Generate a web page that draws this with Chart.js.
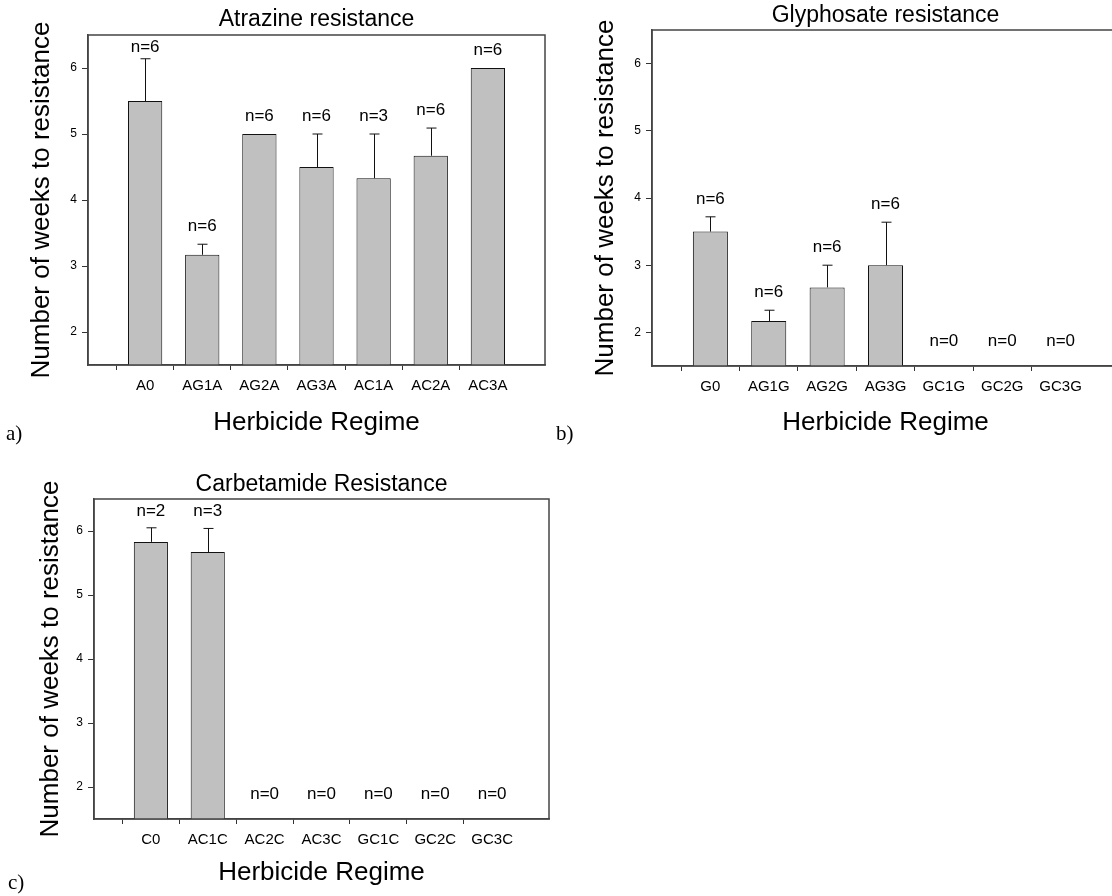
<!DOCTYPE html>
<html>
<head>
<meta charset="utf-8">
<title>Weeks to resistance by herbicide regime</title>
<script src="https://cdn.jsdelivr.net/npm/chart.js@4.4.1/dist/chart.umd.min.js"></script>
<style>
  html, body { margin:0; padding:0; background:#fff; overflow:hidden; width:1112px; height:896px; }
  .panel { position:absolute; }
  .tag { position:absolute; font-family:"Liberation Serif","Times New Roman",serif; font-size:21px; line-height:21px; color:#000; }
</style>
</head>
<body>
<div class="panel" style="left:0;top:0;width:560px;height:440px"><canvas id="chartA"></canvas></div>
<div class="panel" style="left:556px;top:0;width:575px;height:440px"><canvas id="chartB"></canvas></div>
<div class="panel" style="left:0;top:440px;width:560px;height:456px"><canvas id="chartC"></canvas></div>
<div class="tag" style="left:6px;top:423px">a)</div>
<div class="tag" style="left:556px;top:423px">b)</div>
<div class="tag" style="left:8px;top:872px">c)</div>
<script>
// mean weeks to resistance, upper SE and number of resistant lines
const atrazineRegimes = ["A0", "AG1A", "AG2A", "AG3A", "AC1A", "AC2A", "AC3A"];
const atrazineWeeks = [5.5, 3.17, 5.0, 4.5, 4.33, 4.67, 6.0];
const atrazineErr = [0.64, 0.16, 0, 0.5, 0.67, 0.42, 0];
const atrazineN = [6, 6, 6, 6, 3, 6, 6];

const glyphosateRegimes = ["G0", "AG1G", "AG2G", "AG3G", "GC1G", "GC2G", "GC3G"];
const glyphosateWeeks = [3.5, 2.17, 2.67, 3.0, null, null, null];
const glyphosateErr = [0.22, 0.16, 0.33, 0.64, 0, 0, 0];
const glyphosateN = [6, 6, 6, 6, 0, 0, 0];

const carbetamideRegimes = ["C0", "AC1C", "AC2C", "AC3C", "GC1C", "GC2C", "GC3C"];
const carbetamideWeeks = [5.83, 5.67, null, null, null, null, null];
const carbetamideErr = [0.22, 0.37, 0, 0, 0, 0, 0];
const carbetamideN = [2, 3, 0, 0, 0, 0, 0];

const weekTicks = [2, 3, 4, 5, 6];
const weekMin = 1.5, weekMax = 6.5;

const FONT = "'Liberation Sans', Arial, sans-serif";

// upward SE whiskers plus the n= labels over each regime
const errorBarsPlugin = {
  id: "errorBars",
  afterDatasetsDraw(chart, args, opts){
    const { ctx, chartArea } = chart;
    const y = chart.scales.y;
    const meta = chart.getDatasetMeta(0);
    const values = chart.data.datasets[0].data;
    ctx.save();
    ctx.strokeStyle = "#111";
    ctx.lineWidth = 1;
    ctx.fillStyle = "#000";
    ctx.font = "17px " + FONT;
    ctx.textAlign = "center";
    ctx.textBaseline = "middle";
    opts.n.forEach((n, i) => {
      const bar = meta.data[i + 1];
      const v = values[i + 1];
      const x = Math.round(bar.x) + 0.5;
      let labelY;
      if (v === null){
        labelY = chartArea.bottom - 25;
      } else {
        const top = y.getPixelForValue(v + (opts.err[i] || 0));
        if (opts.err[i] > 0){
          const base = y.getPixelForValue(v);
          ctx.beginPath();
          ctx.moveTo(x, base); ctx.lineTo(x, top);
          ctx.moveTo(x - 5, top); ctx.lineTo(x + 5, top);
          ctx.stroke();
        }
        labelY = Math.max(top - 18, chartArea.top + 12);
      }
      ctx.fillText("n=" + n, bar.x, labelY);
    });
    ctx.restore();
  }
};

// box round the plotting area
const framePlugin = {
  id: "frame",
  afterDraw(chart){
    const { ctx, chartArea: a } = chart;
    ctx.save();
    ctx.strokeStyle = "#444";
    ctx.lineWidth = 1.5;
    ctx.strokeRect(a.left, a.top, a.right - a.left, a.bottom - a.top);
    ctx.restore();
  }
};

function makePanel(id, regimes, weeks, err, n, title, box){
  const labels = ["", ...regimes, ""];
  const data = [null, ...weeks, null];
  return new Chart(document.getElementById(id), {
    type: "bar",
    data: {
      labels,
      datasets: [{
        data,
        backgroundColor: "#c0c0c0",
        borderColor: "#111",
        borderWidth: 1,
        borderSkipped: false,
        categoryPercentage: 1,
        barPercentage: 0.6
      }]
    },
    options: {
      responsive: true,
      maintainAspectRatio: false,
      animation: false,
      layout: { padding: { top: 0, left: 0, bottom: 0, right: box.padRight } },
      plugins: {
        legend: { display: false },
        tooltip: { enabled: false },
        title: {
          display: true, text: title, fullSize: false, color: "#000",
          font: { family: FONT, size: 23, weight: "normal", lineHeight: 1 },
          padding: { top: box.titleTop, bottom: box.titleBottom }
        },
        errorBars: { err, n }
      },
      scales: {
        x: {
          offset: false,
          grid: {
            drawOnChartArea: false, tickLength: 5,
            tickColor: c => (c.tick && c.tick.label) ? "#333" : "rgba(0,0,0,0)"
          },
          border: { color: "#444", width: 1.5 },
          ticks: { color: "#000", font: { family: FONT, size: 15 }, padding: 7, maxRotation: 0, autoSkip: false },
          title: {
            display: true, text: "Herbicide Regime", color: "#000",
            font: { family: FONT, size: 26, lineHeight: 1 },
            padding: { top: 0, bottom: box.xTitlePad }
          },
          afterFit: s => { s.height = box.xHeight; }
        },
        y: {
          min: weekMin, max: weekMax,
          afterBuildTicks: s => { s.ticks = weekTicks.map(v => ({ value: v })); },
          grid: { drawOnChartArea: false, tickLength: 6, tickColor: "#333" },
          border: { color: "#444", width: 1.5 },
          ticks: { color: "#000", font: { family: FONT, size: 12 }, padding: 5 },
          title: {
            display: true, text: "Number of weeks to resistance", color: "#000",
            font: { family: FONT, size: 26, lineHeight: 1 },
            padding: { top: box.yTitlePad, bottom: 0 }
          },
          afterFit: s => { s.width = box.yWidth; }
        }
      }
    },
    plugins: [errorBarsPlugin, framePlugin]
  });
}

makePanel("chartA", atrazineRegimes, atrazineWeeks, atrazineErr, atrazineN, "Atrazine resistance",
  { padRight: 15, titleTop: 8, titleBottom: 4, yWidth: 88, yTitlePad: 29, xHeight: 75, xTitlePad: 4 });
makePanel("chartB", glyphosateRegimes, glyphosateWeeks, glyphosateErr, glyphosateN, "Glyphosate resistance",
  { padRight: 12, titleTop: 4.5, titleBottom: 2.5, yWidth: 96, yTitlePad: 37, xHeight: 74, xTitlePad: 4 });
makePanel("chartC", carbetamideRegimes, carbetamideWeeks, carbetamideErr, carbetamideN, "Carbetamide Resistance",
  { padRight: 11, titleTop: 33.5, titleBottom: 2.5, yWidth: 94, yTitlePad: 38, xHeight: 77, xTitlePad: 10 });
</script>
</body>
</html>
